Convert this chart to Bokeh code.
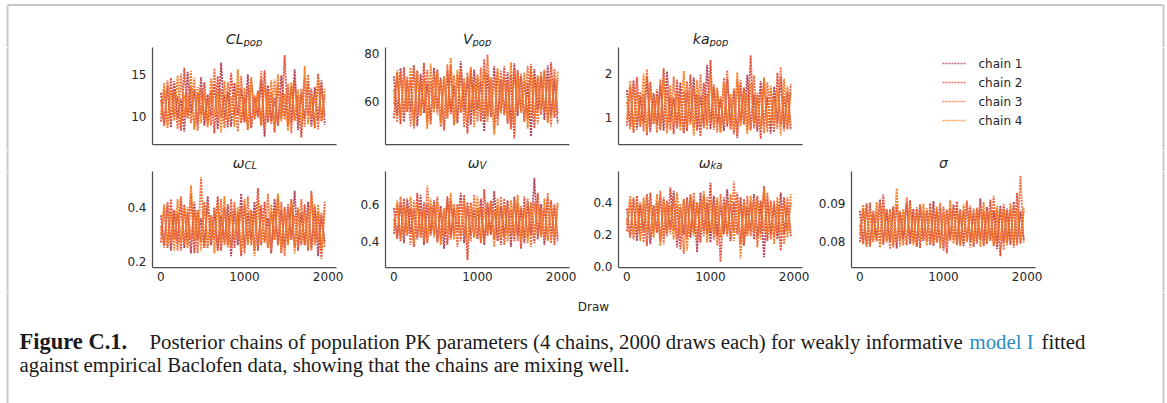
from bokeh.plotting import figure
from bokeh.layouts import column, row
from bokeh.models import Range1d, FixedTicker, PrintfTickFormatter
from bokeh.embed import file_html
from bokeh.resources import INLINE
from bokeh.core.properties import value

# thinned draw index (every 40th draw of 2000)
draws = list(range(0, 2000, 40))

chain_labels = ["chain 1", "chain 2", "chain 3", "chain 4"]
chain_colors = ["#b03a4e", "#e2452e", "#f26a3a", "#f57c1a"]

cl_pop = [
    [12.8, 9.1, 13.6, 8.7, 14.2, 9.8, 12.1, 8.2, 15.3, 10.4,
     13.1, 9.0, 14.7, 8.9, 12.6, 10.1, 13.9, 8.5, 16.4, 9.6,
     12.9, 8.8, 14.0, 10.2, 13.3, 9.3, 15.0, 8.6, 12.4, 9.9,
     14.5, 7.6, 13.7, 9.4, 12.2, 8.9, 14.9, 10.0, 13.4, 9.2,
     15.6, 8.4, 12.7, 9.7, 14.1, 8.8, 13.5, 9.5, 14.3, 9.0],
    [9.4, 13.2, 8.9, 14.6, 10.1, 12.4, 8.3, 15.8, 9.7, 13.5,
     8.6, 12.9, 10.3, 14.1, 9.1, 13.0, 8.0, 14.8, 9.9, 12.6,
     8.7, 15.2, 10.0, 13.8, 9.2, 12.3, 8.4, 14.4, 9.6, 13.1,
     8.9, 15.5, 9.3, 12.8, 8.1, 14.0, 9.8, 17.3, 8.8, 13.6,
     9.5, 12.5, 7.5, 14.7, 10.2, 13.3, 8.6, 15.1, 9.4, 12.7],
    [11.9, 8.8, 14.3, 9.6, 13.0, 8.5, 15.1, 10.0, 12.7, 9.2,
     14.6, 8.3, 13.4, 9.8, 12.2, 8.9, 15.7, 9.4, 13.2, 8.6,
     14.1, 10.3, 12.9, 8.2, 14.8, 9.5, 13.6, 8.7, 12.5, 9.9,
     15.4, 8.4, 13.1, 9.1, 14.4, 8.9, 12.8, 9.6, 13.9, 8.0,
     14.5, 9.3, 13.3, 8.8, 15.0, 9.7, 12.6, 8.5, 13.8, 10.1],
    [10.2, 14.0, 8.6, 13.1, 9.5, 14.9, 8.9, 12.6, 9.9, 15.4,
     8.4, 13.5, 9.2, 12.8, 8.7, 14.5, 10.0, 13.0, 8.1, 14.2,
     9.6, 12.4, 8.8, 15.6, 9.3, 13.4, 8.5, 14.7, 9.8, 12.9,
     8.9, 13.7, 10.1, 14.3, 8.6, 15.0, 9.4, 12.7, 8.3, 14.1,
     9.7, 13.2, 8.8, 16.0, 9.1, 12.5, 8.7, 14.6, 9.5, 13.3],
]

v_pop = [
    [70.5, 54.2, 73.8, 51.6, 68.9, 56.0, 75.2, 49.8, 71.4, 55.3,
     67.6, 52.1, 74.0, 57.2, 69.8, 48.5, 72.6, 54.9, 66.7, 51.0,
     76.8, 55.8, 70.1, 50.4, 73.2, 56.6, 68.4, 47.6, 71.9, 53.5,
     74.6, 52.8, 69.3, 55.1, 72.2, 49.2, 75.9, 54.0, 70.8, 51.9,
     67.9, 45.5, 73.5, 56.3, 71.0, 52.4, 74.9, 53.8, 69.1, 50.9],
    [53.1, 71.7, 50.6, 74.3, 55.7, 69.2, 48.9, 72.8, 54.4, 76.1,
     51.3, 68.5, 56.9, 73.4, 49.5, 70.6, 53.0, 75.0, 50.2, 71.3,
     55.4, 67.8, 46.8, 73.9, 54.7, 70.0, 51.7, 77.6, 53.6, 69.5,
     48.1, 72.4, 55.9, 74.7, 50.8, 71.1, 44.6, 73.0, 56.2, 68.7,
     52.6, 75.6, 49.0, 70.4, 54.5, 72.9, 51.2, 76.4, 53.3, 69.9],
    [64.8, 51.4, 72.1, 55.0, 70.3, 49.7, 74.5, 53.9, 68.2, 56.4,
     73.1, 50.5, 71.6, 54.6, 69.0, 47.9, 75.4, 55.5, 70.9, 52.2,
     73.7, 49.3, 72.0, 56.7, 67.3, 51.8, 74.2, 53.2, 79.5, 55.6,
     70.2, 50.0, 72.7, 54.3, 68.6, 48.4, 73.3, 56.1, 71.5, 51.5,
     74.8, 53.7, 69.6, 50.7, 72.5, 55.2, 70.7, 49.6, 73.6, 54.8],
    [58.9, 73.0, 52.7, 70.0, 56.5, 74.1, 50.3, 71.8, 54.1, 69.4,
     48.7, 75.7, 55.4, 72.3, 51.1, 70.5, 53.4, 78.2, 50.1, 73.1,
     56.0, 69.7, 52.0, 74.4, 49.4, 71.2, 55.8, 72.8, 51.6, 70.2,
     46.3, 73.8, 54.9, 69.8, 52.5, 76.3, 50.6, 71.7, 55.3, 72.0,
     48.8, 74.0, 53.1, 70.9, 56.2, 73.3, 51.4, 69.3, 54.6, 72.6],
]

ka_pop = [
    [1.62, 0.78, 1.85, 0.71, 1.48, 0.86, 1.95, 0.66, 1.55, 0.82,
     1.73, 0.69, 2.05, 0.88, 1.44, 0.74, 1.80, 0.63, 1.58, 0.90,
     1.91, 0.70, 1.50, 0.79, 2.20, 0.72, 1.67, 0.85, 1.42, 0.68,
     1.88, 0.76, 1.60, 0.52, 1.77, 0.83, 1.97, 0.73, 1.52, 0.67,
     1.83, 0.80, 1.46, 0.62, 1.70, 0.87, 1.93, 0.75, 1.57, 0.70],
    [0.80, 1.70, 0.64, 1.92, 0.77, 1.53, 0.58, 1.81, 0.84, 1.64,
     0.70, 2.12, 0.73, 1.47, 0.61, 1.86, 0.81, 1.59, 0.68, 1.98,
     0.75, 1.51, 0.56, 1.79, 0.83, 2.31, 0.71, 1.63, 0.66, 1.90,
     0.78, 1.45, 0.60, 1.84, 0.86, 1.68, 0.69, 2.42, 0.74, 1.56,
     0.50, 1.89, 0.79, 1.61, 0.65, 2.02, 0.82, 1.49, 0.72, 1.76],
    [1.35, 0.72, 1.78, 0.85, 1.58, 0.67, 2.10, 0.79, 1.50, 0.64,
     1.87, 0.88, 1.62, 0.70, 1.94, 0.76, 1.46, 0.62, 1.82, 0.83,
     1.69, 0.68, 1.99, 0.74, 1.54, 0.87, 1.75, 0.65, 1.48, 0.80,
     2.08, 0.71, 1.66, 0.59, 1.85, 0.84, 1.52, 0.69, 1.96, 0.77,
     1.60, 0.63, 1.80, 0.86, 1.43, 0.73, 2.15, 0.67, 1.71, 0.81],
    [0.95, 1.83, 0.70, 1.57, 0.81, 2.00, 0.66, 1.65, 0.86, 1.49,
     0.73, 1.90, 0.62, 1.74, 0.84, 1.55, 0.69, 2.06, 0.78, 1.61,
     0.57, 1.86, 0.82, 1.47, 0.71, 1.95, 0.76, 1.68, 0.64, 1.81,
     0.87, 1.53, 0.68, 2.03, 0.79, 1.59, 0.61, 1.78, 0.85, 1.50,
     0.72, 1.92, 0.66, 1.72, 0.83, 1.63, 0.58, 1.88, 0.77, 1.56],
]

omega_cl = [
    [0.37, 0.26, 0.41, 0.24, 0.39, 0.27, 0.43, 0.25, 0.38, 0.23,
     0.42, 0.28, 0.36, 0.25, 0.44, 0.26, 0.40, 0.24, 0.37, 0.27,
     0.41, 0.22, 0.39, 0.26, 0.45, 0.25, 0.38, 0.28, 0.42, 0.24,
     0.40, 0.27, 0.36, 0.23, 0.43, 0.26, 0.39, 0.25, 0.41, 0.28,
     0.46, 0.24, 0.38, 0.26, 0.42, 0.25, 0.40, 0.22, 0.37, 0.27],
    [0.27, 0.40, 0.25, 0.43, 0.28, 0.38, 0.24, 0.41, 0.26, 0.45,
     0.23, 0.39, 0.27, 0.42, 0.25, 0.37, 0.28, 0.44, 0.24, 0.40,
     0.26, 0.43, 0.25, 0.38, 0.22, 0.41, 0.27, 0.39, 0.24, 0.47,
     0.26, 0.42, 0.25, 0.38, 0.28, 0.44, 0.23, 0.40, 0.27, 0.43,
     0.25, 0.39, 0.26, 0.41, 0.24, 0.46, 0.27, 0.38, 0.21, 0.42],
    [0.33, 0.25, 0.42, 0.27, 0.39, 0.24, 0.44, 0.26, 0.40, 0.28,
     0.38, 0.23, 0.51, 0.25, 0.41, 0.27, 0.39, 0.24, 0.43, 0.26,
     0.37, 0.25, 0.42, 0.28, 0.40, 0.23, 0.44, 0.26, 0.38, 0.25,
     0.41, 0.27, 0.45, 0.24, 0.39, 0.26, 0.42, 0.22, 0.40, 0.28,
     0.37, 0.25, 0.43, 0.26, 0.39, 0.24, 0.41, 0.27, 0.38, 0.25],
    [0.30, 0.41, 0.26, 0.38, 0.24, 0.43, 0.27, 0.40, 0.25, 0.48,
     0.28, 0.39, 0.24, 0.42, 0.26, 0.37, 0.23, 0.41, 0.27, 0.44,
     0.25, 0.38, 0.28, 0.40, 0.24, 0.43, 0.26, 0.39, 0.22, 0.42,
     0.27, 0.37, 0.25, 0.41, 0.28, 0.45, 0.24, 0.39, 0.26, 0.42,
     0.23, 0.40, 0.27, 0.38, 0.25, 0.44, 0.26, 0.41, 0.24, 0.39],
]

omega_v = [
    [0.58, 0.42, 0.61, 0.39, 0.63, 0.44, 0.57, 0.41, 0.65, 0.38,
     0.60, 0.43, 0.62, 0.40, 0.59, 0.36, 0.64, 0.42, 0.58, 0.45,
     0.66, 0.39, 0.61, 0.43, 0.57, 0.41, 0.63, 0.38, 0.60, 0.44,
     0.67, 0.40, 0.59, 0.42, 0.62, 0.37, 0.64, 0.43, 0.58, 0.39,
     0.61, 0.44, 0.74, 0.41, 0.60, 0.38, 0.63, 0.42, 0.59, 0.40],
    [0.44, 0.60, 0.40, 0.63, 0.43, 0.58, 0.37, 0.66, 0.42, 0.61,
     0.39, 0.59, 0.44, 0.64, 0.41, 0.57, 0.38, 0.62, 0.43, 0.60,
     0.40, 0.65, 0.30, 0.61, 0.42, 0.58, 0.39, 0.68, 0.43, 0.62,
     0.41, 0.59, 0.38, 0.63, 0.44, 0.57, 0.40, 0.61, 0.36, 0.64,
     0.42, 0.60, 0.39, 0.66, 0.43, 0.58, 0.41, 0.62, 0.38, 0.60],
    [0.52, 0.41, 0.64, 0.43, 0.59, 0.38, 0.62, 0.42, 0.57, 0.40,
     0.70, 0.44, 0.61, 0.39, 0.58, 0.43, 0.63, 0.41, 0.60, 0.37,
     0.62, 0.44, 0.59, 0.40, 0.65, 0.42, 0.58, 0.39, 0.61, 0.43,
     0.57, 0.41, 0.64, 0.38, 0.60, 0.44, 0.62, 0.40, 0.59, 0.42,
     0.63, 0.37, 0.61, 0.43, 0.58, 0.41, 0.66, 0.39, 0.60, 0.42],
    [0.47, 0.62, 0.41, 0.59, 0.44, 0.64, 0.39, 0.60, 0.43, 0.57,
     0.40, 0.63, 0.42, 0.61, 0.38, 0.58, 0.44, 0.66, 0.41, 0.59,
     0.43, 0.62, 0.39, 0.60, 0.42, 0.64, 0.40, 0.58, 0.44, 0.61,
     0.37, 0.63, 0.42, 0.59, 0.40, 0.62, 0.43, 0.65, 0.41, 0.58,
     0.39, 0.61, 0.44, 0.60, 0.42, 0.63, 0.40, 0.59, 0.43, 0.61],
]

omega_ka = [
    [0.36, 0.19, 0.42, 0.16, 0.39, 0.22, 0.45, 0.14, 0.38, 0.21,
     0.44, 0.17, 0.40, 0.23, 0.47, 0.12, 0.37, 0.20, 0.43, 0.18,
     0.41, 0.09, 0.46, 0.22, 0.39, 0.15, 0.44, 0.19, 0.38, 0.21,
     0.48, 0.16, 0.40, 0.20, 0.43, 0.13, 0.37, 0.22, 0.45, 0.18,
     0.41, 0.06, 0.42, 0.20, 0.39, 0.17, 0.46, 0.21, 0.38, 0.19],
    [0.22, 0.41, 0.17, 0.44, 0.20, 0.39, 0.13, 0.46, 0.21, 0.40,
     0.16, 0.43, 0.19, 0.49, 0.22, 0.38, 0.11, 0.42, 0.18, 0.45,
     0.21, 0.40, 0.15, 0.44, 0.20, 0.52, 0.17, 0.41, 0.03, 0.43,
     0.19, 0.39, 0.22, 0.46, 0.14, 0.42, 0.20, 0.40, 0.17, 0.44,
     0.21, 0.50, 0.16, 0.41, 0.19, 0.38, 0.10, 0.43, 0.22, 0.40],
    [0.30, 0.18, 0.43, 0.21, 0.40, 0.15, 0.45, 0.19, 0.38, 0.22,
     0.47, 0.14, 0.41, 0.20, 0.44, 0.17, 0.39, 0.08, 0.42, 0.21,
     0.46, 0.16, 0.40, 0.19, 0.43, 0.22, 0.38, 0.13, 0.45, 0.20,
     0.41, 0.18, 0.53, 0.21, 0.39, 0.15, 0.44, 0.19, 0.42, 0.12,
     0.40, 0.22, 0.46, 0.17, 0.41, 0.20, 0.38, 0.14, 0.43, 0.21],
    [0.26, 0.44, 0.20, 0.40, 0.16, 0.43, 0.22, 0.39, 0.18, 0.45,
     0.13, 0.41, 0.21, 0.38, 0.17, 0.46, 0.20, 0.42, 0.10, 0.44,
     0.19, 0.40, 0.22, 0.47, 0.15, 0.41, 0.20, 0.43, 0.18, 0.39,
     0.21, 0.45, 0.16, 0.42, 0.05, 0.40, 0.19, 0.44, 0.22, 0.41,
     0.17, 0.48, 0.20, 0.39, 0.14, 0.43, 0.21, 0.40, 0.18, 0.45],
]

sigma = [
    [0.0882, 0.0795, 0.0901, 0.0788, 0.0876, 0.0803, 0.0912, 0.0791, 0.0885, 0.0799,
     0.0894, 0.0781, 0.0879, 0.0806, 0.0903, 0.0793, 0.0887, 0.0785, 0.0897, 0.0801,
     0.0881, 0.0790, 0.0908, 0.0797, 0.0890, 0.0776, 0.0884, 0.0804, 0.0899, 0.0792,
     0.0886, 0.0787, 0.0905, 0.0800, 0.0878, 0.0794, 0.0915, 0.0789, 0.0892, 0.0802,
     0.0883, 0.0780, 0.0896, 0.0798, 0.0888, 0.0791, 0.0906, 0.0796, 0.0880, 0.0801],
    [0.0798, 0.0889, 0.0786, 0.0904, 0.0801, 0.0880, 0.0792, 0.0925, 0.0797, 0.0886,
     0.0784, 0.0898, 0.0803, 0.0883, 0.0790, 0.0910, 0.0795, 0.0891, 0.0782, 0.0879,
     0.0800, 0.0902, 0.0788, 0.0885, 0.0796, 0.0893, 0.0768, 0.0888, 0.0802, 0.0907,
     0.0791, 0.0882, 0.0799, 0.0896, 0.0785, 0.0890, 0.0804, 0.0881, 0.0793, 0.0912,
     0.0787, 0.0885, 0.0760, 0.0899, 0.0797, 0.0887, 0.0783, 0.0930, 0.0794, 0.0884],
    [0.0845, 0.0792, 0.0896, 0.0785, 0.0883, 0.0800, 0.0907, 0.0794, 0.0887, 0.0779,
     0.0892, 0.0802, 0.0881, 0.0789, 0.0918, 0.0797, 0.0885, 0.0786, 0.0900, 0.0803,
     0.0889, 0.0791, 0.0878, 0.0798, 0.0903, 0.0784, 0.0886, 0.0801, 0.0894, 0.0790,
     0.0880, 0.0795, 0.0909, 0.0783, 0.0888, 0.0799, 0.0897, 0.0787, 0.0882, 0.0802,
     0.0921, 0.0792, 0.0890, 0.0777, 0.0884, 0.0800, 0.0898, 0.0789, 0.0976, 0.0796],
    [0.0820, 0.0898, 0.0789, 0.0884, 0.0797, 0.0905, 0.0783, 0.0889, 0.0801, 0.0880,
     0.0792, 0.0942, 0.0786, 0.0887, 0.0799, 0.0896, 0.0790, 0.0882, 0.0804, 0.0901,
     0.0788, 0.0886, 0.0795, 0.0893, 0.0781, 0.0879, 0.0802, 0.0911, 0.0793, 0.0884,
     0.0787, 0.0899, 0.0800, 0.0883, 0.0796, 0.0890, 0.0785, 0.0906, 0.0798, 0.0881,
     0.0791, 0.0895, 0.0803, 0.0887, 0.0789, 0.0902, 0.0794, 0.0885, 0.0799, 0.0892],
]

x_ticks = [0, 1000, 2000]

SANS = "DejaVu Sans"
SERIF = "Liberation Serif"
INK = "#262626"
SPINE = "#4d4d4d"
FRAME_EDGE = "#c8c8c8"
PANEL_W = 233
ROW1_H, ROW2_H = 103, 121
FRAME_CENTERS = [244, 477, 710, 943]


def blank(width, height):
    """Plain canvas whose data units are pixels, y growing downward."""
    f = figure(width=width, height=height, x_range=Range1d(0, width),
               y_range=Range1d(height, 0), x_axis_type=None, y_axis_type=None,
               min_border=0, output_backend="svg", toolbar_location=None)
    f.outline_line_color = None
    f.grid.visible = False
    f.title.visible = False
    f.frame_align = False
    return f


def edge(f, x, y0=0):
    f.line([x, x], [y0, f.height], line_color=FRAME_EDGE, line_width=2)


def panel(vals, y_lo, y_hi, ticks, fmt, top):
    p = figure(width=PANEL_W, height=ROW1_H if top else ROW2_H,
               x_range=Range1d(-100, 2100), y_range=Range1d(y_lo, y_hi),
               min_border_left=40, min_border_right=9, min_border_top=0,
               min_border_bottom=6 if top else 25,
               output_backend="svg", toolbar_location=None)
    p.outline_line_color = None
    p.grid.visible = False
    p.title.visible = False
    p.frame_align = False
    for c in range(4):
        p.line(draws, vals[c], line_color=chain_colors[c], line_width=1.8,
               line_dash="2 1", line_alpha=0.95)
    for ax in (p.xaxis[0], p.yaxis[0]):
        ax.axis_line_color = SPINE
        ax.axis_line_width = 1.25
        ax.major_tick_line_color = None
        ax.minor_tick_line_color = None
        ax.major_tick_out = 0
        ax.major_tick_in = 0
        ax.minor_tick_out = 0
        ax.major_label_text_font = SANS
        ax.major_label_text_font_size = "12px"
        ax.major_label_text_color = INK
    p.yaxis[0].ticker = FixedTicker(ticks=ticks)
    p.yaxis[0].major_label_standoff = 6
    if fmt:
        p.yaxis[0].formatter = PrintfTickFormatter(format=fmt)
    # the first row shares the x axis of the second; only its spine is drawn
    p.xaxis[0].ticker = FixedTicker(ticks=[] if top else x_ticks)
    p.xaxis[0].major_label_standoff = 0 if top else 4
    return p


def titles(f, specs, mid, sub_mid):
    for cx, main, sub, shift in specs:
        if sub:
            f.text(x=[cx + shift], y=[mid], text=[main], text_font=value(SANS),
                   text_font_style="italic", text_font_size="14px",
                   text_color=INK, text_align="right", text_baseline="middle")
            f.text(x=[cx + shift], y=[sub_mid], text=[sub],
                   text_font=value(SANS), text_font_style="italic",
                   text_font_size="10px", text_color=INK,
                   text_align="left", text_baseline="middle")
        else:
            f.text(x=[cx], y=[mid], text=[main], text_font=value(SANS),
                   text_font_style="italic", text_font_size="14px",
                   text_color=INK, text_align="center", text_baseline="middle")


# page frame top and first-row titles
strip1 = blank(1167, 47)
strip1.line([7, 1163], [4.5, 4.5], line_color=FRAME_EDGE, line_width=2)
edge(strip1, 7, 4.5)
edge(strip1, 1163, 4.5)
titles(strip1, [(FRAME_CENTERS[0], "CL", "pop", -1),
                (FRAME_CENTERS[1], "V", "pop", -5),
                (FRAME_CENTERS[2], "ka", "pop", -1)], 38, 41.5)

p_cl = panel(cl_pop, 6.67, 18.2, [10, 15], None, True)
p_v = panel(v_pop, 42.2, 82.4, [60, 80], None, True)
p_ka = panel(ka_pop, 0.37, 2.6, [1, 2], None, True)

left1 = blank(112, ROW1_H)
edge(left1, 7)

# legend column on the right of the first row
legend_fig = blank(356, ROW1_H)
edge(legend_fig, 352)
leg_y = [16, 35, 54, 73]
for c in range(4):
    legend_fig.line([131, 155], [leg_y[c], leg_y[c]], line_color=chain_colors[c],
                    line_width=1.3, line_dash="2 1", line_alpha=0.75)
legend_fig.text(x=[167] * 4, y=leg_y, text=chain_labels,
                text_font=value(SANS), text_font_size="12px", text_color=INK,
                text_align="left", text_baseline="middle")

# gap between rows with second-row titles
strip2 = blank(1167, 21)
edge(strip2, 7)
edge(strip2, 1163)
titles(strip2, [(FRAME_CENTERS[0], "ω", "CL", 0),
                (FRAME_CENTERS[1], "ω", "V", 2),
                (FRAME_CENTERS[2], "ω", "ka", 0),
                (FRAME_CENTERS[3], "σ", None, 0)], 12.5, 15)

p_wcl = panel(omega_cl, 0.178, 0.531, [0.2, 0.4], "%.1f", False)
p_wv = panel(omega_v, 0.259, 0.775, [0.4, 0.6], "%.1f", False)
p_wka = panel(omega_ka, -0.004, 0.59, [0.0, 0.2, 0.4], "%.1f", False)
p_sig = panel(sigma, 0.073, 0.0987, [0.08, 0.09], "%.2f", False)

left2 = blank(112, ROW2_H)
edge(left2, 7)
right2 = blank(123, ROW2_H)
edge(right2, 119)

# shared x label and figure caption
cap = blank(1167, 111)
edge(cap, 7)
edge(cap, 1163)
cap.text(x=[593], y=[14], text=["Draw"], text_font=value(SANS),
         text_font_size="12px", text_color=INK,
         text_align="center", text_baseline="middle")
cap.text(x=[19], y=[49], text=["Figure C.1."], text_font=value(SERIF),
         text_font_size="22.5px", text_font_style="bold", text_color="#1a1a1a",
         text_align="left", text_baseline="middle")
cap.text(x=[149, 1041], y=[49, 49],
         text=["Posterior chains of population PK parameters (4 chains, 2000 draws each) for weakly informative",
               "fitted"],
         text_font=value(SERIF), text_font_size="20.8px", text_color="#1a1a1a",
         text_align="left", text_baseline="middle")
cap.text(x=[969], y=[49], text=["model I"], text_font=value(SERIF),
         text_font_size="20.8px", text_color="#2a8cc4",
         text_align="left", text_baseline="middle")
cap.text(x=[19], y=[72],
         text=["against empirical Baclofen data, showing that the chains are mixing well."],
         text_font=value(SERIF), text_font_size="20.8px", text_color="#1a1a1a",
         text_align="left", text_baseline="middle")

layout = column(
    strip1,
    row(left1, p_cl, p_v, p_ka, legend_fig),
    strip2,
    row(left2, p_wcl, p_wv, p_wka, p_sig, right2),
    cap,
)

open("out.html", "w").write(file_html(layout, INLINE))
